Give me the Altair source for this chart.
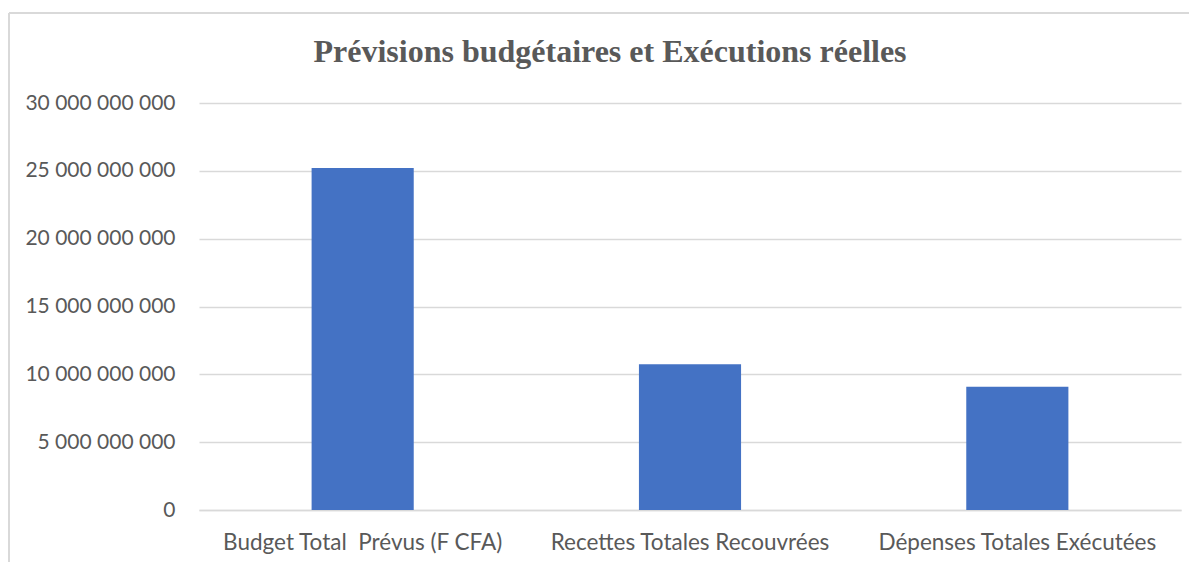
import altair as alt
import pandas as pd

categories = ["Budget Total \u00a0Prévus (F CFA)", "Recettes Totales Recouvrées", "Dépenses Totales Exécutées"]
values = [25200000000, 10740000000, 9090000000]
y_ticks = [0, 5000000000, 10000000000, 15000000000, 20000000000, 25000000000, 30000000000]

df = pd.DataFrame({"cat": categories, "val": values})

bars = alt.Chart(df).mark_bar(color="#4472C4").encode(
    x=alt.X("cat:N", sort=categories, title=None,
            scale=alt.Scale(paddingInner=0.688, paddingOuter=0.344),
            axis=alt.Axis(labelAngle=0, ticks=False, domain=True, domainColor="#d9d9d9",
                          domainWidth=1.5, labelFont="Lato", labelFontSize=22.5,
                          labelColor="#595959", labelPadding=21, grid=False, labelLimit=0)),
    y=alt.Y("val:Q", title=None,
            scale=alt.Scale(domain=[0, 30000000000], nice=False),
            axis=alt.Axis(values=y_ticks, ticks=False, domain=False, grid=True,
                          gridColor="#d9d9d9", gridWidth=1.5,
                          labelExpr="replace(format(datum.value, ','), /,/g, ' ')",
                          labelFont="Lato", labelFontSize=21, labelColor="#595959",
                          labelPadding=24)),
)

# light frame around the whole chart (decoration)
frame_top = alt.Chart(df).mark_rule(color="#d9d9d9", strokeWidth=1.5).encode(
    x=alt.value(-190), x2=alt.value(1000), y=alt.value(-90)
)
frame_left = alt.Chart(df).mark_rule(color="#d9d9d9", strokeWidth=1.5).encode(
    x=alt.value(-190), y=alt.value(-90), y2=alt.value(460)
)

chart = alt.layer(frame_top, frame_left, bars).properties(
    width=982, height=407,
    padding={"left": 191, "top": 95, "right": 8, "bottom": 52},
    autosize=alt.AutoSizeParams(type="none"),
    title=alt.TitleParams("Prévisions budgétaires et Exécutions réelles",
                          font="Liberation Serif", fontSize=32, fontWeight="bold",
                          color="#595959", anchor="middle", dx=-80, offset=-57),
).configure_view(stroke=None)

chart.save("out.html", embed_options={"renderer": "svg", "actions": False})
